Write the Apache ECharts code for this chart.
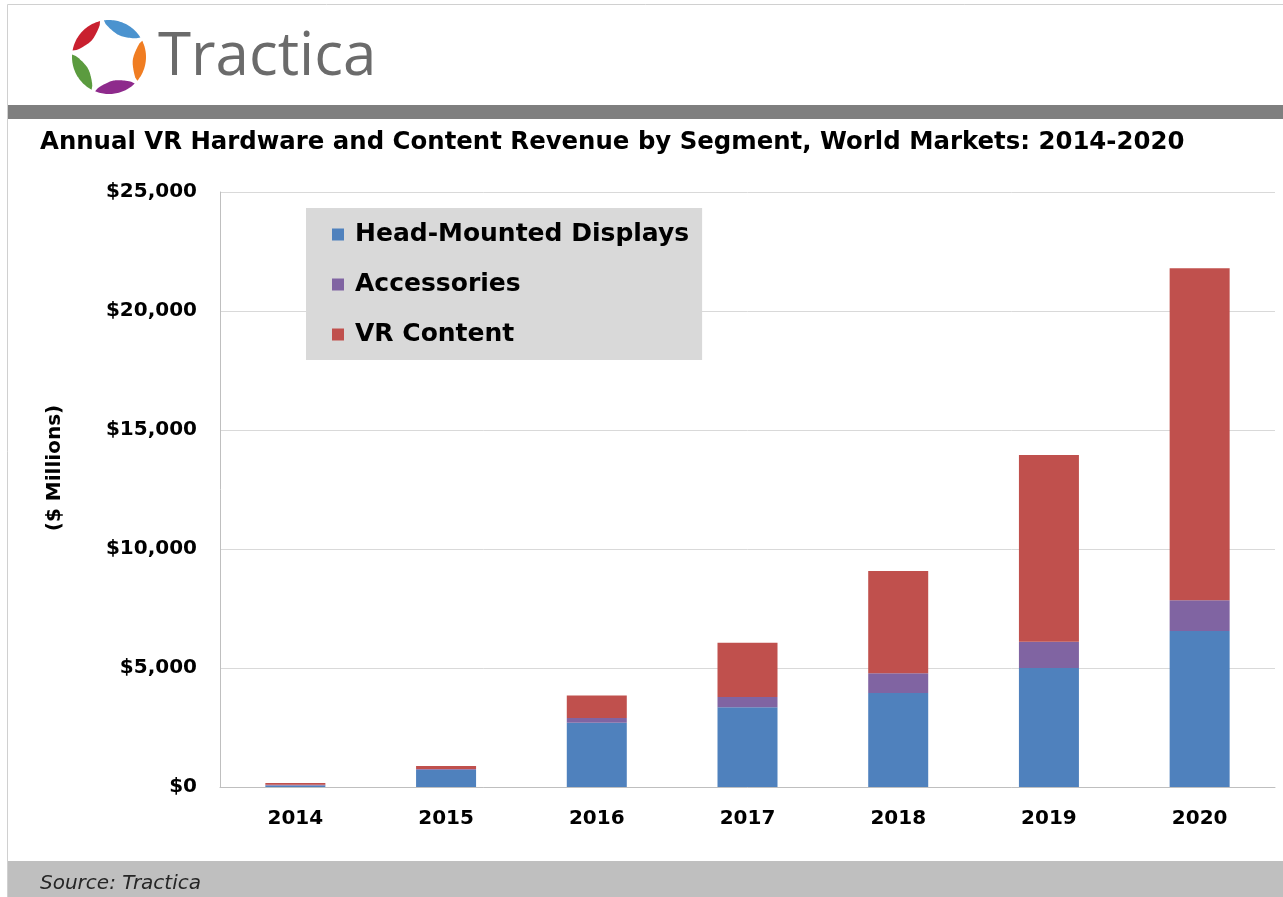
<!DOCTYPE html>
<html>
<head>
<meta charset="utf-8">
<script src="https://cdn.jsdelivr.net/npm/echarts@6/dist/echarts.min.js"></script>
<style>
html,body{margin:0;padding:0;background:#fff;}
#chart{width:1283px;height:897px;}
</style>
</head>
<body>
<div id="chart"></div>
<script>
// ---- data ----
var years = ['2014', '2015', '2016', '2017', '2018', '2019', '2020'];
var seriesNames = ['Head-Mounted Displays', 'Accessories', 'VR Content'];
var hmd = [60, 720, 2700, 3350, 3950, 5000, 6550];
var accessories = [30, 40, 200, 430, 830, 1100, 1300];
var vrContent = [80, 120, 940, 2280, 4300, 7850, 13950];
var yTicks = [0, 5000, 10000, 15000, 20000, 25000];
var titleText = 'Annual VR Hardware and Content Revenue by Segment, World Markets: 2014-2020';
var yAxisName = '($ Millions)';
var sourceText = 'Source: Tractica';
var brandText = 'Tractica';

var colors = ['#4f81bd', '#8064a2', '#c0504d'];
var boldFont = 'DejaVu Sans';

// logo petals (decoration)
function petal(cx, cy, R, a0, a1, thick, color) {
  var pts = [], n = 30, i, t, a;
  for (i = 0; i <= n; i++) {
    t = i / n; a = (a0 + (a1 - a0) * t) * Math.PI / 180;
    pts.push([cx + R * Math.cos(a), cy - R * Math.sin(a)]);
  }
  for (i = n; i >= 0; i--) {
    t = i / n; a = (a0 + (a1 - a0) * t) * Math.PI / 180;
    var r = R - thick * Math.pow(Math.sin(Math.PI * t), 0.55);
    pts.push([cx + r * Math.cos(a), cy - r * Math.sin(a)]);
  }
  return { type: 'polygon', shape: { points: pts }, style: { fill: color }, z: 10 };
}
var lc = [109, 57];
var petals = [
  petal(lc[0], lc[1], 37, 32, 98, 13, '#4b93cf'),
  petal(lc[0], lc[1], 37, -40, 26, 13, '#f07d22'),
  petal(lc[0], lc[1], 37, -112, -46, 13, '#8e2a8c'),
  petal(lc[0], lc[1], 37, 176, 242, 13, '#5b9b3f'),
  petal(lc[0], lc[1], 37, 104, 170, 13, '#c9202f')
];

var chart = echarts.init(document.getElementById('chart'));
var option = {
  backgroundColor: '#ffffff',
  animation: false,
  color: colors,
  grid: { left: 220, right: 8, top: 192, bottom: 110, containLabel: false },
  legend: {
    orient: 'vertical',
    left: 306, top: 208,
    backgroundColor: '#d9d9d9',
    padding: [14, 13, 13, 26],
    itemGap: 25,
    icon: 'rect',
    itemWidth: 12, itemHeight: 12,
    data: seriesNames,
    textStyle: { fontFamily: boldFont, fontWeight: 'bold', fontSize: 25, color: '#000', lineHeight: 24, padding: [0, 0, 0, 6] }
  },
  xAxis: {
    type: 'category',
    data: years,
    axisLine: { lineStyle: { color: '#bfbfbf', width: 1 } },
    axisTick: { show: false },
    axisLabel: { fontFamily: boldFont, fontWeight: 'bold', fontSize: 20, color: '#000', margin: 22 }
  },
  yAxis: {
    type: 'value',
    min: yTicks[0], max: yTicks[yTicks.length - 1], interval: yTicks[1] - yTicks[0],
    axisLine: { show: true, lineStyle: { color: '#bfbfbf', width: 1 } },
    axisTick: { show: false },
    splitLine: { lineStyle: { color: '#d9d9d9', width: 1 } },
    axisLabel: {
      fontFamily: boldFont, fontWeight: 'bold', fontSize: 20, color: '#000', margin: 23,
      formatter: function (v) { return '$' + v.toLocaleString('en-US'); }
    }
  },
  series: [
    { name: seriesNames[0], type: 'bar', stack: 'total', data: hmd, barWidth: 60 },
    { name: seriesNames[1], type: 'bar', stack: 'total', data: accessories, barWidth: 60 },
    { name: seriesNames[2], type: 'bar', stack: 'total', data: vrContent, barWidth: 60 }
  ],
  graphic: [
    { type: 'rect', shape: { x: 7.5, y: 4.5, width: 1290, height: 900 }, style: { fill: 'none', stroke: '#d0d0d0', lineWidth: 1 }, z: 0, silent: true },
    { type: 'rect', shape: { x: 8, y: 105, width: 1275, height: 14 }, style: { fill: '#7f7f7f' }, z: 1 },
    { type: 'rect', shape: { x: 8, y: 861, width: 1275, height: 36 }, style: { fill: '#bfbfbf' }, z: 1 },
    { type: 'text', x: 40, y: 143, style: { text: titleText, fontFamily: boldFont, fontWeight: 'bold', fontSize: 24.4, fill: '#000', textVerticalAlign: 'middle' }, z: 5 },
    { type: 'text', x: 55, y: 468, rotation: Math.PI / 2, style: { text: yAxisName, fontFamily: boldFont, fontWeight: 'bold', fontSize: 20, fill: '#000', textAlign: 'center', textVerticalAlign: 'middle' }, z: 5 },
    { type: 'text', x: 40, y: 884, style: { text: sourceText, fontFamily: boldFont, fontStyle: 'italic', fontSize: 20, fill: '#262626', textVerticalAlign: 'middle' }, z: 5 },
    { type: 'text', x: 158, y: 58, style: { text: brandText, fontFamily: 'Open Sans', fontSize: 60, fill: '#6b6b6b', textVerticalAlign: 'middle' }, z: 5 }
  ].concat(petals)
};
chart.setOption(option);
</script>
</body>
</html>
